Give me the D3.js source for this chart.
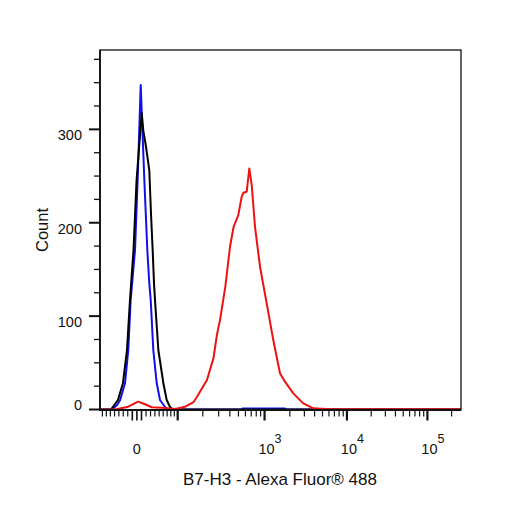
<!DOCTYPE html>
<html><head><meta charset="utf-8">
<script src="https://cdn.jsdelivr.net/npm/d3@7"></script>
<style>body{margin:0;background:#fff}svg{display:block}text{font-family:Arial,"Liberation Sans",sans-serif;fill:#111}</style>
</head><body><svg id="c" width="506" height="506"></svg>
<script>
// ---- data (fluorescence units, counts) ----
const blueX  = [-86, -56, -44, -37, -26, -18.8, -13.6, -4.1, 1.6, 8.3, 16.2, 22.8, 27.2, 30.4, 36.3, 44.2, 52.1, 64.5, 72.4, 540, 560, 1750, 1800, 262144];
const blueY  = [0, 0, 4.8, 10.2, 28.4, 63.7, 117.2, 170.8, 245.7, 347.4, 245.7, 170.8, 135.4, 117.2, 63.7, 28.4, 10.2, 2.7, 0, 0, 1.2, 1.2, 0, 0];
const blackX = [-86, -58.5, -42, -30.6, -21.7, -15.1, -7.4, -0.7, 10.5, 13.8, 19.9, 27.2, 31.0, 34.8, 37.9, 40.2, 48.1, 60.3, 68.9, 77.8, 86, 262144];
const blackY = [0, 0, 10.2, 28.4, 63.7, 117.2, 170.8, 245.7, 317.4, 299.2, 281.4, 256.4, 210.1, 170.8, 135.4, 117.2, 63.7, 28.4, 10.2, 2.7, 0, 0];
const redX   = [-86, -49, -18.8, 2.5, 17.7, 32.7, 56.3, 91.9, 125, 157, 172, 222.5, 263, 287, 311, 356, 401.6, 441, 498, 544, 568, 621, 665, 709, 774, 885, 1060, 1268, 1524, 1749, 2202, 2912, 3856, 6180, 262144];
const redY   = [0, 0, 3, 8.4, 5.6, 2.4, 2, 0.5, 3, 8, 13.7, 31.6, 55, 80, 96, 131.5, 174.3, 195.7, 208.2, 227.8, 232.1, 233.2, 258.2, 240.4, 195.7, 152.9, 113.7, 74.4, 38.8, 29.8, 17.3, 6.6, 1.3, 0.4, 0.4];
const yTicks = [0, 100, 200, 300];
const yMinor = [25, 50, 75, 125, 150, 175, 225, 250, 275, 325, 350, 375];
const xLabelTicks = [{v:0, base:"0", exp:""}, {v:1e3, base:"10", exp:"3"}, {v:1e4, base:"10", exp:"4"}, {v:1e5, base:"10", exp:"5"}];
const xMajor = [-10, 0, 10, 100, 1000, 10000, 100000];
const xMinor = [-80,-70,-60,-50,-40,-30,-20,20,30,40,50,60,70,80,90,200,300,400,500,600,700,800,900,2000,3000,4000,5000,6000,7000,8000,9000,20000,30000,40000,50000,60000,70000,80000,90000,200000];
const xTitle = "B7-H3 - Alexa Fluor® 488";
const yTitle = "Count";

// ---- logicle transform ----
const T = 262144, W = 0.46, M = 4.5, A = 0;
const w = W / (M + A), x2 = A / (M + A), x1 = x2 + w, x0 = x2 + 2 * w, b = (M + A) * Math.LN10;
let lo = 1e-9, hi = b;
for (let i = 0; i < 200; i++) { const m = (lo + hi) / 2; const f = 2 * (Math.log(m) - Math.log(b)) + w * (b + m); if (f > 0) hi = m; else lo = m; }
const d = (lo + hi) / 2;
const ca = Math.exp(x0 * (b + d));
const mfa = Math.exp(b * x1) - ca / Math.exp(d * x1);
const aa = T / ((Math.exp(b) - mfa) - ca / Math.exp(d));
const cc = ca * aa, ff = -mfa * aa;
const S = y => aa * Math.exp(b * y) - cc * Math.exp(-d * y) + ff;
function logicle(v) { let l = -0.5, h = 1.5; for (let i = 0; i < 80; i++) { const m = (l + h) / 2; if (S(m) < v) l = m; else h = m; } return (l + h) / 2; }

const xLin = d3.scaleLinear().domain([0, 1]).range([100, 461]);
const x = v => xLin(logicle(v));
const y = d3.scaleLinear().domain([0, 385]).range([409.5, 50]);

const svg = d3.select("#c");
const plot = svg.append("g");

// curves
const line = d3.line().x(p => x(p[0])).y(p => y(p[1]));
function draw(xs, ys, col) {
  plot.append("path").datum(xs.map((v, i) => [v, ys[i]])).attr("d", line)
    .attr("fill", "none").attr("stroke", col).attr("stroke-width", 2).attr("stroke-linejoin", "round");
}
draw(blueX, blueY, "#1010ee");
draw(blackX, blackY, "#000");
draw(redX, redY, "#ee1111");

// frame
svg.append("rect").attr("x", 100).attr("y", 50).attr("width", 361).attr("height", 360)
  .attr("fill", "none").attr("stroke", "#111").attr("stroke-width", 1.3);
svg.append("line").attr("x1", 100).attr("x2", 100).attr("y1", 50).attr("y2", 411).attr("stroke", "#111").attr("stroke-width", 1.8);
svg.append("line").attr("x1", 99).attr("x2", 461).attr("y1", 410).attr("y2", 410).attr("stroke", "#111").attr("stroke-width", 1.8);

// y ticks
svg.selectAll(".ym").data(yTicks).join("line").attr("x1", 89).attr("x2", 100)
  .attr("y1", v => y(v)).attr("y2", v => y(v)).attr("stroke", "#111").attr("stroke-width", 2);
svg.selectAll(".yn").data(yMinor).join("line").attr("x1", 94).attr("x2", 100)
  .attr("y1", v => y(v)).attr("y2", v => y(v)).attr("stroke", "#111").attr("stroke-width", 1.3);
svg.selectAll(".yl").data(yTicks).join("text").attr("x", 82).attr("y", v => v === 0 ? y(v) + 0.5 : y(v) + 11)
  .attr("text-anchor", "end").attr("font-size", 14.5).text(v => v);

// x ticks
svg.selectAll(".xm").data(xMajor).join("line").attr("x1", v => x(v)).attr("x2", v => x(v))
  .attr("y1", 410).attr("y2", 420.5).attr("stroke", "#111").attr("stroke-width", v => (v >= 100 ? 2.2 : 1.6));
svg.selectAll(".xn").data(xMinor).join("line").attr("x1", v => x(v)).attr("x2", v => x(v))
  .attr("y1", 410).attr("y2", 416.5).attr("stroke", "#111").attr("stroke-width", 1.2);
const xl = svg.selectAll(".xl").data(xLabelTicks).join("g").attr("transform", t => `translate(${x(t.v)},0)`);
xl.append("text").attr("x", t => t.exp ? 2 : 0).attr("y", 454).attr("text-anchor", "middle").attr("font-size", 14.5).text(t => t.base);
xl.append("text").attr("x", 10).attr("y", 443).attr("font-size", 12.5).text(t => t.exp);

// titles
svg.append("text").attr("x", 280).attr("y", 485).attr("text-anchor", "middle").attr("font-size", 17).text(xTitle);
svg.append("text").attr("transform", "translate(48,230) rotate(-90)").attr("text-anchor", "middle").attr("font-size", 16.5).text(yTitle);
</script></body></html>
